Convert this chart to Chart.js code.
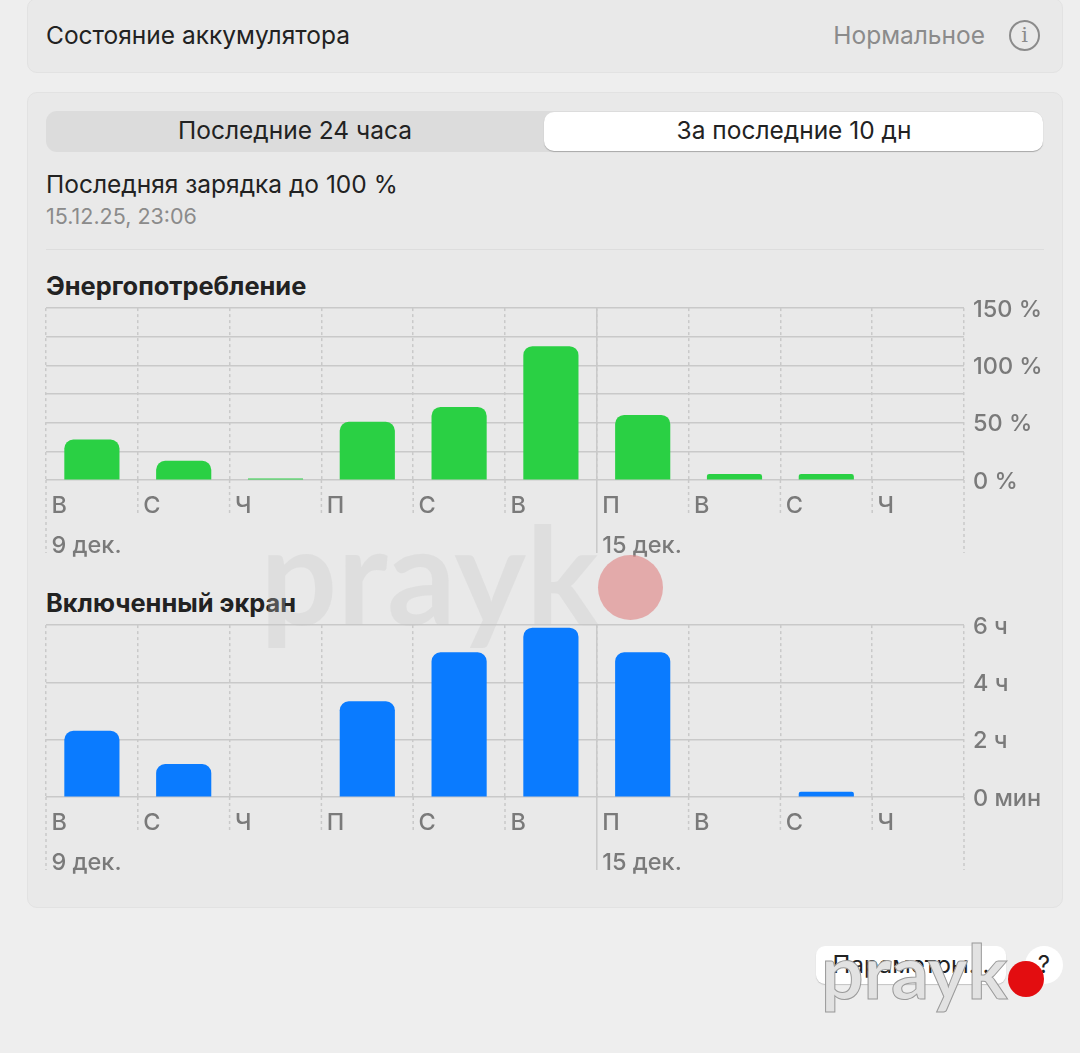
<!DOCTYPE html>
<html lang="ru">
<head>
<meta charset="utf-8">
<title>Состояние аккумулятора</title>
<script src="https://cdn.jsdelivr.net/npm/chart.js@4"></script>
<style>
    html, body { margin: 0; padding: 0; }
    body { width: 1080px; height: 1053px; background: #eeeeee; position: relative; overflow: hidden; font-family: Inter, "Noto Sans", sans-serif; color: #222; }
    .abs { position: absolute; white-space: nowrap; line-height: 1; }
    .panel { position: absolute; left: 27px; width: 1034px; background: #e9e9e9; border: 1px solid #e2e2e2; border-radius: 10px; }
    .text { font-size: 24.5px; transform: translateY(-50%); }
    .grey { color: #8b8b8b; }
    .title { font-size: 25.4px; font-weight: 700; transform: translateY(-50%); color: #222; }
    canvas { position: absolute; }
    .mark { position: absolute; font-family: Lato, sans-serif; font-weight: 700; line-height: 1; white-space: nowrap; }
    .dot { position: absolute; border-radius: 50%; }
</style>
</head>
<body>
    <div class="panel" style="top:-2px;height:73px"></div>
    <div class="abs text" style="left:46px;top:35px">Состояние аккумулятора</div>
    <div class="abs text grey" style="right:95px;top:35px">Нормальное</div>
    <div class="abs" style="left:1009px;top:20px;width:27px;height:27px;border:2px solid #8b8b8b;border-radius:50%;text-align:center;line-height:27px;font-size:21px;font-family:'DejaVu Serif',serif;color:#8b8b8b">i</div>

    <div class="panel" style="top:92px;height:814px"></div>
    <div class="abs" style="left:46px;top:111px;width:997px;height:41px;background:#dcdcdc;border-radius:11px"></div>
    <div class="abs" style="left:544px;top:112px;width:499px;height:39px;background:#fff;border-radius:10px;box-shadow:0 1px 1px #a8a8a8"></div>
    <div class="abs text" style="left:295px;top:130px;transform:translate(-50%,-50%)">Последние 24 часа</div>
    <div class="abs text" style="left:794px;top:130px;transform:translate(-50%,-50%)">За последние 10 дн</div>
    <div class="abs text" style="left:46px;top:184px">Последняя зарядка до 100 %</div>
    <div class="abs text grey" style="left:46px;top:217px;font-size:21.5px">15.12.25, 23:06</div>
    <div class="abs" style="left:46px;top:249px;width:998px;height:1px;background:#dddddd"></div>

    <div class="abs title" style="left:46px;top:286px">Энергопотребление</div>
    <canvas id="chart-energy" style="left:40px;top:285px;width:1030px;height:281px"></canvas>

    <div class="abs title" style="left:46px;top:603px">Включенный экран</div>
    <canvas id="chart-screen" style="left:40px;top:602px;width:1030px;height:281px"></canvas>

    <div class="abs" style="left:816px;top:946px;width:190px;height:38px;background:#fff;border-radius:9px;box-shadow:0 1px 1px #c4c4c4;text-align:center;line-height:38px;font-size:24px">Параметры…</div>
    <div class="abs" style="left:1025px;top:946px;width:38px;height:38px;background:#fff;border-radius:50%;text-align:center;line-height:38px;font-size:24px">?</div>

    <!-- watermarks -->
    <div class="mark" style="left:260px;top:505px;font-size:136px;color:rgba(200,200,200,0.3)">prayk</div>
    <div class="dot" style="left:598px;top:555px;width:65px;height:65px;background:rgba(224,140,140,0.68)"></div>
    <div class="mark" style="left:821px;top:933px;font-size:75px;color:#e2e2e2;-webkit-text-stroke:1px #9a9a9a">prayk</div>
    <div class="dot" style="left:1008px;top:961px;width:36px;height:36px;background:#e30d10"></div>

<script>
    const dayLabels = ['В', 'С', 'Ч', 'П', 'С', 'В', 'П', 'В', 'С', 'Ч'];
    const dateLabels = ['9 дек.', '', '', '', '', '', '15 дек.', '', '', ''];

    const energyValues = [35, 16.5, 1, 50.5, 63.5, 116.5, 56.5, 5, 5, null];
    const energyTicks = { 0: '0 %', 50: '50 %', 100: '100 %', 150: '150 %' };

    const screenValues = [2.3, 1.14, null, 3.33, 5.04, 5.9, 5.04, null, 0.17, null];
    const screenTicks = { 0: '0 мин', 2: '2 ч', 4: '4 ч', 6: '6 ч' };

    const lineColor = '#c9c9c9';
    const labelColor = '#7a7a7a';

    // draws the parts of the day lines that hang below the plot
    const dayLinesPlugin = {
        id: 'dayLines',
        beforeDatasetsDraw(chart) {
            const ctx = chart.ctx;
            const xScale = chart.scales.x;
            const area = chart.chartArea;
            const half = (xScale.getPixelForTick(1) - xScale.getPixelForTick(0)) / 2;
            ctx.save();
            ctx.lineWidth = 1.5;
            ctx.strokeStyle = lineColor;
            for (let i = 0; i <= dayLabels.length; i++) {
                const x = xScale.getPixelForValue(i) - half;
                const isLong = i === 0 || i === 6 || i === dayLabels.length;
                ctx.setLineDash([3, 3]);
                ctx.beginPath();
                ctx.moveTo(x, area.bottom);
                ctx.lineTo(x, area.bottom + (isLong ? 73 : 33));
                if (i === 6) {
                    ctx.setLineDash([]);
                    ctx.moveTo(x, area.top);
                    ctx.lineTo(x, area.bottom + 73);
                }
                ctx.stroke();
            }
            ctx.restore();
        }
    };

    function createBarChart(canvasId, values, barColor, maxValue, step, tickLabels) {
        const ctx = document.getElementById(canvasId).getContext('2d');
        return new Chart(ctx, {
            type: 'bar',
            plugins: [dayLinesPlugin],
            data: {
                labels: dayLabels,
                datasets: [{
                    data: values,
                    backgroundColor: barColor,
                    barThickness: 54.5,
                    borderRadius: { topLeft: 9, topRight: 9 },
                    borderSkipped: 'bottom'
                }]
            },
            options: {
                responsive: false,
                animation: false,
                layout: { padding: { left: 6, top: 0 } },
                plugins: { legend: { display: false }, tooltip: { enabled: false } },
                scales: {
                    x: {
                        offset: true,
                        afterFit: scale => { scale.height = 86; },
                        border: { display: false, dash: [3, 3] },
                        grid: { offset: true, drawTicks: false, color: lineColor, lineWidth: 1.5 },
                        ticks: {
                            autoSkip: false,
                            maxRotation: 0,
                            align: 'start',
                            labelOffset: -40.5,
                            padding: 5,
                            color: labelColor,
                            font: { family: 'Inter', size: 23.5, weight: '500', lineHeight: 1.74 },
                            callback: (value, index) => dateLabels[index] ? [dayLabels[index], dateLabels[index]] : dayLabels[index]
                        }
                    },
                    y: {
                        position: 'right',
                        min: 0,
                        max: maxValue,
                        afterFit: scale => { scale.width = 106; },
                        border: { display: false },
                        grid: { drawTicks: false, color: lineColor, lineWidth: 1.5 },
                        ticks: {
                            autoSkip: false,
                            stepSize: step,
                            padding: 9,
                            labelOffset: 1.5,
                            color: labelColor,
                            font: { family: 'Inter', size: 23.5, weight: '500' },
                            callback: value => tickLabels[value] || ''
                        }
                    }
                }
            }
        });
    }

    createBarChart('chart-energy', energyValues, '#2ad044', 150, 25, energyTicks);
    createBarChart('chart-screen', screenValues, '#0a7bff', 6, 2, screenTicks);
</script>
</body>
</html>
